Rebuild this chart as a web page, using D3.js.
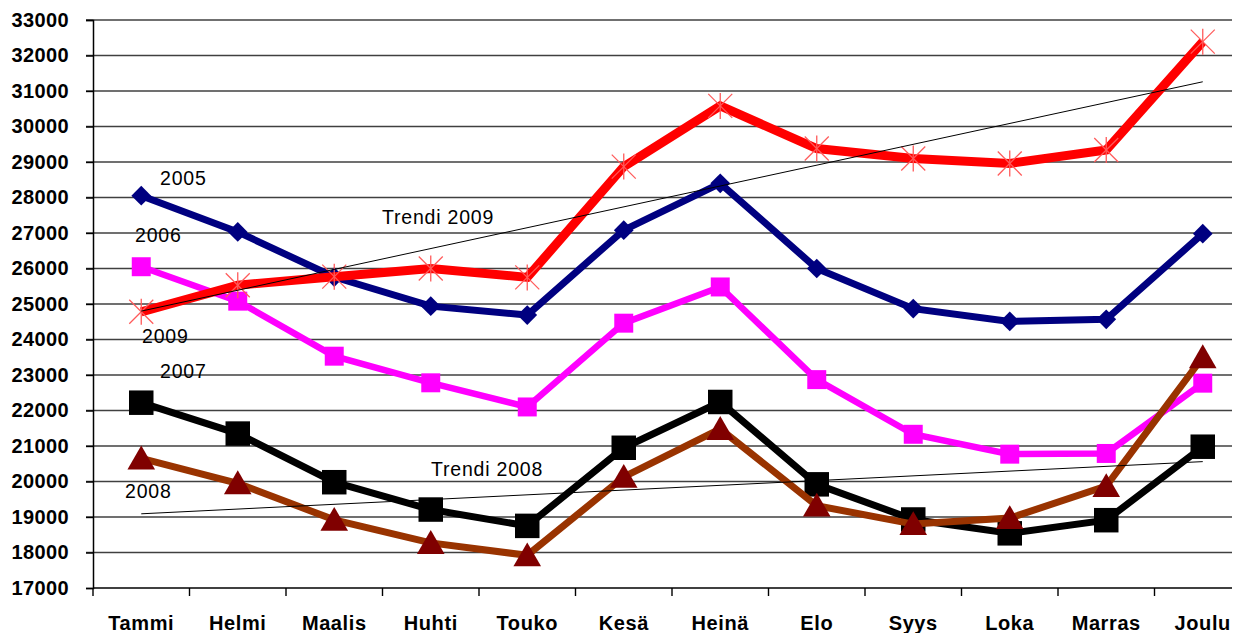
<!DOCTYPE html>
<html>
<head>
<meta charset="utf-8">
<script src="https://cdn.jsdelivr.net/npm/d3@7"></script>
<style>
  body { margin: 0; background: #fff; }
  svg { display: block; font-family: "Liberation Sans", Arial, sans-serif; }
</style>
</head>
<body>
<script>
// kuukaudet
var kuukaudet = ["Tammi", "Helmi", "Maalis", "Huhti", "Touko", "Kesä", "Heinä", "Elo", "Syys", "Loka", "Marras", "Joulu"];

var v2005 = [28050, 27030, 25760, 24940, 24690, 27080, 28400, 26000, 24870, 24510, 24570, 26980];
var v2006 = [26050, 25080, 23530, 22780, 22100, 24460, 25480, 22870, 21330, 20770, 20790, 22770];
var v2007 = [22220, 21350, 19980, 19210, 18750, 20950, 22240, 19920, 18930, 18540, 18910, 20980];
var v2008 = [20650, 19950, 18920, 18270, 17920, 20130, 21480, 19320, 18800, 18970, 19870, 23500];
var v2009 = [24780, 25530, 25770, 26000, 25750, 28870, 30580, 29380, 29100, 28960, 29340, 32390];

// trendiviivojen päätepisteet (Tammi, Joulu)
var trendi2009 = [24800, 31260];
var trendi2008 = [19090, 20560];

var yTicks = [17000, 18000, 19000, 20000, 21000, 22000, 23000, 24000, 25000, 26000, 27000, 28000, 29000, 30000, 31000, 32000, 33000];

var w = 1245, h = 633;
var margin = { left: 93, top: 20, bottom: 588 };
var gridRight = 1232;

var svg = d3.select("body").append("svg")
    .attr("width", w).attr("height", h);

var x = d3.scaleBand().domain(kuukaudet).range([margin.left, margin.left + 12 * 96.5]).padding(0);
var y = d3.scaleLinear().domain([17000, 33000]).range([margin.bottom, margin.top]);
function cx(m) { return x(m) + x.bandwidth() / 2; }

// vaakaviivat
svg.append("g").selectAll("line")
    .data(yTicks.slice(1))
    .enter().append("line")
    .attr("x1", margin.left - 7).attr("x2", gridRight)
    .attr("y1", function (d) { return y(d); }).attr("y2", function (d) { return y(d); })
    .attr("stroke", "#404040").attr("stroke-width", 1.4);

// y-akseli
var yAxis = svg.append("g")
    .attr("transform", "translate(" + margin.left + ",0)")
    .call(d3.axisLeft(y).tickValues(yTicks).tickSize(7).tickPadding(17).tickFormat(d3.format("d")));
yAxis.select(".domain").attr("stroke", "#000").attr("stroke-width", 1.5);
yAxis.selectAll(".tick line").attr("stroke", "#000").attr("stroke-width", 1.4);
yAxis.selectAll("text")
    .attr("font-size", 20).attr("font-weight", "bold").attr("letter-spacing", 0.4)
    .attr("font-family", "Liberation Sans, Arial, sans-serif").attr("fill", "#000");

// x-akseli
svg.append("line")
    .attr("x1", margin.left).attr("x2", gridRight)
    .attr("y1", margin.bottom).attr("y2", margin.bottom)
    .attr("stroke", "#000").attr("stroke-width", 1.5);
svg.append("g").selectAll("line")
    .data(kuukaudet)
    .enter().append("line")
    .attr("x1", function (d) { return x(d); }).attr("x2", function (d) { return x(d); })
    .attr("y1", margin.bottom).attr("y2", margin.bottom + 8)
    .attr("stroke", "#000").attr("stroke-width", 1.4);
svg.append("g").selectAll("text")
    .data(kuukaudet)
    .enter().append("text")
    .attr("x", cx).attr("y", 630)
    .attr("text-anchor", "middle")
    .attr("font-size", 20).attr("font-weight", "bold").attr("letter-spacing", 0.6)
    .text(function (d) { return d; });

var line = d3.line()
    .x(function (d, i) { return cx(kuukaudet[i]); })
    .y(function (d) { return y(d); });

function sarja(arvot, vari, leveys) {
    svg.append("path")
        .datum(arvot)
        .attr("d", line)
        .attr("fill", "none")
        .attr("stroke", vari)
        .attr("stroke-width", leveys)
        .attr("stroke-linejoin", "miter");
}

function merkit(arvot, symboli, koko, vari) {
    svg.append("g").selectAll("path")
        .data(arvot)
        .enter().append("path")
        .attr("transform", function (d, i) { return "translate(" + cx(kuukaudet[i]) + "," + y(d) + ")"; })
        .attr("d", d3.symbol().type(symboli).size(koko))
        .attr("fill", vari);
}

// 2005
sarja(v2005, "#000080", 7);
svg.append("g").selectAll("path")
    .data(v2005)
    .enter().append("path")
    .attr("transform", function (d, i) { return "translate(" + cx(kuukaudet[i]) + "," + y(d) + ") rotate(45)"; })
    .attr("d", d3.symbol().type(d3.symbolSquare).size(195))
    .attr("fill", "#000080");

// 2006
sarja(v2006, "#ff00ff", 6.5);
merkit(v2006, d3.symbolSquare, 360, "#ff00ff");

// 2007
sarja(v2007, "#000000", 7);
merkit(v2007, d3.symbolSquare, 600, "#000000");

// 2008
sarja(v2008, "#993300", 7);
svg.append("g").selectAll("path")
    .data(v2008)
    .enter().append("path")
    .attr("transform", function (d, i) { return "translate(" + cx(kuukaudet[i]) + "," + (y(d) + 3) + ")"; })
    .attr("d", d3.symbol().type(d3.symbolTriangle).size(330))
    .attr("fill", "#800000");

// 2009
sarja(v2009, "#ff0000", 9);
var tahti = svg.append("g").selectAll("g")
    .data(v2009)
    .enter().append("g")
    .attr("transform", function (d, i) { return "translate(" + cx(kuukaudet[i]) + "," + y(d) + ")"; })
    .attr("stroke", "#ff5a5a").attr("stroke-width", 1.3);
tahti.append("line").attr("x1", 0).attr("x2", 0).attr("y1", -13).attr("y2", 13);
tahti.append("line").attr("x1", -12).attr("x2", 12).attr("y1", -12).attr("y2", 12);
tahti.append("line").attr("x1", -12).attr("x2", 12).attr("y1", 12).attr("y2", -12);

// trendit
[trendi2009, trendi2008].forEach(function (t) {
    svg.append("line")
        .attr("x1", cx(kuukaudet[0])).attr("x2", cx(kuukaudet[11]))
        .attr("y1", y(t[0])).attr("y2", y(t[1]))
        .attr("stroke", "#000").attr("stroke-width", 1);
});

// tekstit
var tekstit = [
    { t: "2005", x: 160, y: 185 },
    { t: "2006", x: 135, y: 242 },
    { t: "2009", x: 142, y: 343 },
    { t: "2007", x: 160, y: 378 },
    { t: "2008", x: 125, y: 498 },
    { t: "Trendi 2009", x: 382, y: 224 },
    { t: "Trendi 2008", x: 431, y: 476 }
];
svg.append("g").selectAll("text")
    .data(tekstit)
    .enter().append("text")
    .attr("x", function (d) { return d.x; }).attr("y", function (d) { return d.y; })
    .attr("font-size", 19.5).attr("letter-spacing", 0.8)
    .text(function (d) { return d.t; });
</script>
</body>
</html>
